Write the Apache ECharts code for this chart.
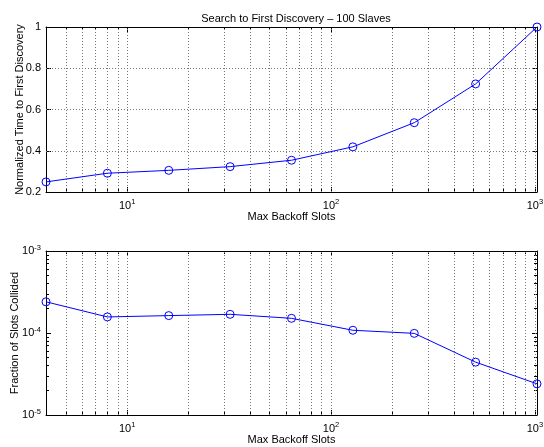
<!DOCTYPE html>
<html><head><meta charset="utf-8">
<script src="https://cdn.jsdelivr.net/npm/echarts@6/dist/echarts.min.js"></script>
<style>html,body{margin:0;padding:0;background:#fff}#c{width:544px;height:447px}</style>
</head><body><div id="c"></div>
<script>
const slots = [4, 8, 16, 32, 64, 128, 256, 512, 1024];
const timeToDiscovery = [0.249, 0.291, 0.305, 0.323, 0.354, 0.419, 0.536, 0.724, 1.0];
const fractionCollided = [2.40e-4, 1.57e-4, 1.63e-4, 1.69e-4, 1.51e-4, 1.08e-4, 9.9e-5, 4.41e-5, 2.40e-5];
const xMajorTicks = [10, 100, 1000];
const xMinorTicks = [5, 6, 7, 8, 9, 20, 30, 40, 50, 60, 70, 80, 90, 200, 300, 400, 500, 600, 700, 800, 900];
const yTopTicks = [0.2, 0.4, 0.6, 0.8, 1];
const yBottomMajor = [1e-5, 1e-4, 1e-3];
const yBottomMinor = [2e-5, 3e-5, 4e-5, 5e-5, 6e-5, 7e-5, 8e-5, 9e-5, 2e-4, 3e-4, 4e-4, 5e-4, 6e-4, 7e-4, 8e-4, 9e-4];

const FONT = 'Liberation Sans, Arial, Helvetica, sans-serif';
const BLACK = '#000';
const grid = [
  {left: 46, right: 7, top: 27, height: 165, containLabel: false, outerBoundsMode: 'none'},
  {left: 46, right: 7, top: 251, height: 164, containLabel: false, outerBoundsMode: 'none'}
];
const rich = {
  b: {fontSize: 11, fontFamily: FONT, color: BLACK},
  s: {fontSize: 7.5, fontFamily: FONT, color: BLACK, padding: [0, 0, 7, 0]}
};
function expFmt(v) {
  const e = Math.round(Math.log10(v));
  return '{b|10}{s|' + e + '}';
}
function xAxisSet(gi, withName) {
  const base = {type: 'log', logBase: 10, min: 4, max: 1024, gridIndex: gi,
    splitLine: {show: false}, minorTick: {show: false}};
  return [
    Object.assign({}, base, {position: 'bottom',
      axisLine: {show: true, lineStyle: {color: BLACK, width: 1}},
      axisTick: {show: true, inside: true, length: 5, customValues: xMajorTicks, lineStyle: {color: BLACK}},
      axisLabel: {show: true, customValues: xMajorTicks, formatter: expFmt, rich: rich, margin: 6},
      name: withName ? 'Max Backoff Slots' : '', nameLocation: 'middle', nameGap: 19,
      nameTextStyle: {fontSize: 11, fontFamily: FONT, color: BLACK}}),
    Object.assign({}, base, {position: 'top',
      axisLine: {show: true, lineStyle: {color: BLACK, width: 1}},
      axisTick: {show: true, inside: true, length: 5, customValues: xMajorTicks, lineStyle: {color: BLACK}},
      axisLabel: {show: false}}),
    Object.assign({}, base, {position: 'bottom',
      axisLine: {show: false},
      axisTick: {show: true, inside: true, length: 3, customValues: xMinorTicks, lineStyle: {color: BLACK}},
      axisLabel: {show: false}}),
    Object.assign({}, base, {position: 'top',
      axisLine: {show: false},
      axisTick: {show: true, inside: true, length: 3, customValues: xMinorTicks, lineStyle: {color: BLACK}},
      axisLabel: {show: false}})
  ];
}
const xAxes = xAxisSet(0, true).concat(xAxisSet(1, true));

const yTopBase = {type: 'value', min: 0.2, max: 1, interval: 0.2, gridIndex: 0, splitLine: {show: false}};
const yBotBase = {type: 'log', logBase: 10, min: 1e-5, max: 1e-3, gridIndex: 1, splitLine: {show: false}, minorTick: {show: false}};
const yAxes = [
  Object.assign({}, yTopBase, {position: 'left',
    axisLine: {show: true, lineStyle: {color: BLACK}},
    axisTick: {show: true, inside: true, length: 5, lineStyle: {color: BLACK}},
    axisLabel: {show: true, fontSize: 11, fontFamily: FONT, color: BLACK, margin: 5,
      formatter: v => String(Math.round(v * 10) / 10)},
    name: 'Normalized Time to First Discovery', nameLocation: 'middle', nameGap: 21, nameMoveOverlap: false,
    nameTextStyle: {fontSize: 11, fontFamily: FONT, color: BLACK}}),
  Object.assign({}, yTopBase, {position: 'right',
    axisLine: {show: true, lineStyle: {color: BLACK}},
    axisTick: {show: true, inside: true, length: 5, lineStyle: {color: BLACK}},
    axisLabel: {show: false}}),
  Object.assign({}, yBotBase, {position: 'left',
    axisLine: {show: true, lineStyle: {color: BLACK}},
    axisTick: {show: true, inside: true, length: 5, customValues: yBottomMajor, lineStyle: {color: BLACK}},
    axisLabel: {show: true, customValues: yBottomMajor, formatter: expFmt, rich: rich, margin: 5},
    name: 'Fraction of Slots Collided', nameLocation: 'middle', nameGap: 26, nameMoveOverlap: false,
    nameTextStyle: {fontSize: 11, fontFamily: FONT, color: BLACK}}),
  Object.assign({}, yBotBase, {position: 'right',
    axisLine: {show: true, lineStyle: {color: BLACK}},
    axisTick: {show: true, inside: true, length: 5, customValues: yBottomMajor, lineStyle: {color: BLACK}},
    axisLabel: {show: false}}),
  Object.assign({}, yBotBase, {position: 'left',
    axisLine: {show: false},
    axisTick: {show: true, inside: true, length: 3, customValues: yBottomMinor, lineStyle: {color: BLACK}},
    axisLabel: {show: false}}),
  Object.assign({}, yBotBase, {position: 'right',
    axisLine: {show: false},
    axisTick: {show: true, inside: true, length: 3, customValues: yBottomMinor, lineStyle: {color: BLACK}},
    axisLabel: {show: false}})
];

const gridStyle = {type: [1, 2], color: '#777', width: 1};
function vLines(vals) { return vals.map(v => ({xAxis: v})); }
function hLines(vals) { return vals.map(v => ({yAxis: v})); }

const lineSeries = (xi, yi, ys, gridData) => ({
  type: 'line', xAxisIndex: xi, yAxisIndex: yi,
  data: slots.map((x, i) => [x, ys[i]]),
  symbol: 'circle', symbolSize: 8,
  itemStyle: {color: 'rgba(0,0,0,0)', borderColor: '#0000ff', borderWidth: 1},
  lineStyle: {color: '#0000ff', width: 1},
  emphasis: {disabled: true}, animation: false, z: 5,
  markLine: {silent: true, symbol: ['none', 'none'], label: {show: false}, animation: false,
    lineStyle: gridStyle, emphasis: {disabled: true}, data: gridData}
});

const option = {
  animation: false,
  backgroundColor: '#fff',
  title: {text: 'Search to First Discovery \u2013 100 Slaves', left: 291, top: 8, textAlign: 'center',
    textStyle: {fontSize: 11, fontWeight: 'normal', fontFamily: FONT, color: BLACK}},
  grid: grid,
  xAxis: xAxes,
  yAxis: yAxes,
  series: [
    lineSeries(0, 0, timeToDiscovery,
      vLines(xMajorTicks.concat(xMinorTicks)).concat(hLines([0.4, 0.6, 0.8]))),
    lineSeries(4, 2, fractionCollided,
      vLines(xMajorTicks.concat(xMinorTicks)).concat(hLines([1e-4].concat(yBottomMinor))))
  ]
};
const chart = echarts.init(document.getElementById('c'), null, {renderer: 'canvas'});
chart.setOption(option);
</script></body></html>
